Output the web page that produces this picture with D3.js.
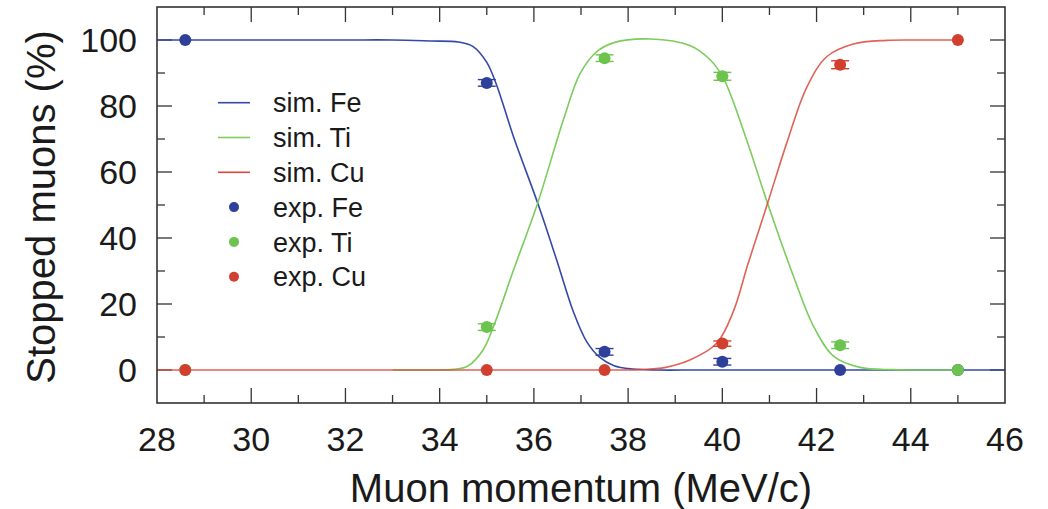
<!DOCTYPE html>
<html>
<head>
<meta charset="utf-8">
<script src="https://cdn.jsdelivr.net/npm/d3@7"></script>
<style>
  html, body { margin: 0; padding: 0; background: #fff; }
  svg { display: block; }
  text { font-family: "Liberation Sans", Arial, Helvetica, sans-serif; fill: #1a1a1a; }
</style>
</head>
<body>
<svg id="chart" width="1048" height="509"></svg>
<script>
// ---------- data ----------
const xTicks = [28, 30, 32, 34, 36, 38, 40, 42, 44, 46];
const yTicks = [0, 20, 40, 60, 80, 100];

// simulation curves [momentum, percent]
const simFe = [[28,100],[30,100],[32,100],[33,100],[33.8,99.7],[34.4,99.4],[34.71,98.0],[35.0,93.2],[35.21,86.3],[35.56,71.0],[36.09,50.2],[36.48,33.5],[36.84,17.6],[37.12,8.6],[37.4,3.8],[37.7,1.3],[38.1,0.3],[38.6,0],[39.5,0],[41,0],[43,0],[46,0]];
const simTi = [[33,0],[33.7,0],[34.3,0.2],[34.6,1.2],[34.93,6.3],[35.17,14.2],[35.56,30.0],[36.09,51.0],[36.63,76],[36.98,89.8],[37.33,96.4],[37.7,99.2],[38.47,100.3],[39.31,98.3],[39.74,94.0],[40.02,88.5],[40.5,70.4],[40.96,50.5],[41.51,28.4],[41.93,13.4],[42.36,4.2],[42.92,0.8],[43.63,0.1],[44.2,0],[45,0]];
const simCu = [[28,0],[30,0],[32,0],[34,0],[36,0],[37.5,0],[38.25,0.1],[38.8,0.8],[39.31,3.0],[39.88,8.1],[40.23,17.6],[40.55,32.4],[40.96,50.5],[41.37,68.9],[41.79,85.6],[42.22,95.0],[42.78,98.8],[43.49,99.9],[44.2,100],[45,100]];

// experimental points
const expX   = [28.6, 35, 37.5, 40, 42.5, 45];
const expFe  = [100, 87, 5.5, 2.5, 0, 0];
const expTi  = [0, 13, 94.5, 89, 7.5, 0];
const expCu  = [0, 0, 0, 8, 92.5, 100];
const errFe  = [0, 1, 1, 1, 0, 0];
const errTi  = [0, 1, 1, 1.2, 1, 0];
const errCu  = [0, 0, 0, 0.8, 1.2, 0];

const legendLabels = ["sim. Fe", "sim. Ti", "sim. Cu", "exp. Fe", "exp. Ti", "exp. Cu"];

// ---------- layout ----------
const colors = { Fe: "#3549a8", Ti: "#7ccc5e", Cu: "#d9483a" };
const dotColors = { Fe: "#2e409a", Ti: "#6cc44e", Cu: "#d13f2f" };

const svg = d3.select("#chart");
const L = 157, R = 1005, T = 7, B = 403;
const x = d3.scaleLinear().domain([28, 46]).range([L, R]);
const y = d3.scaleLinear().domain([-10, 110]).range([B, T]);

// ---------- ticks (inward, all four sides) ----------
const tickColor = "#333";
const major = 15, minor = 8;
const g = svg.append("g");
const xMinor = d3.range(29, 46, 2);
const yMinor = [10, 30, 50, 70, 90];

function vTick(xv, len) {
  g.append("line").attr("x1", x(xv)).attr("x2", x(xv)).attr("y1", B).attr("y2", B - len).attr("stroke", tickColor).attr("stroke-width", 1.3);
  g.append("line").attr("x1", x(xv)).attr("x2", x(xv)).attr("y1", T).attr("y2", T + len).attr("stroke", tickColor).attr("stroke-width", 1.3);
}
function hTick(yv, len) {
  g.append("line").attr("x1", L).attr("x2", L + len).attr("y1", y(yv)).attr("y2", y(yv)).attr("stroke", tickColor).attr("stroke-width", 1.3);
  g.append("line").attr("x1", R).attr("x2", R - len).attr("y1", y(yv)).attr("y2", y(yv)).attr("stroke", tickColor).attr("stroke-width", 1.3);
}
xTicks.slice(1, -1).forEach(v => vTick(v, major));
xMinor.forEach(v => vTick(v, minor));
yTicks.forEach(v => hTick(v, major));
yMinor.forEach(v => hTick(v, minor));

// tick labels
svg.append("g").selectAll("text").data(xTicks).join("text")
  .attr("x", d => x(d)).attr("y", 451)
  .attr("text-anchor", "middle").attr("font-size", 34)
  .text(d => d);
svg.append("g").selectAll("text").data(yTicks).join("text")
  .attr("x", 137).attr("y", d => y(d)).attr("dy", "0.36em")
  .attr("text-anchor", "end").attr("font-size", 34)
  .text(d => d);

// axis titles
svg.append("text").attr("x", (L + R) / 2).attr("y", 502)
  .attr("text-anchor", "middle").attr("font-size", 40)
  .text("Muon momentum (MeV/c)");
svg.append("text").attr("transform", "translate(55,207) rotate(-90)")
  .attr("text-anchor", "middle").attr("font-size", 40)
  .text("Stopped muons (%)");

// ---------- curves ----------
const line = d3.line().x(d => x(d[0])).y(d => y(d[1])).curve(d3.curveCatmullRom.alpha(0.5));
const curves = g.append("g").attr("fill", "none").attr("stroke-width", 1.6);
curves.append("path").datum(simFe).attr("d", line).attr("stroke", colors.Fe);
curves.append("path").datum(simTi).attr("d", line).attr("stroke", colors.Ti);
curves.append("path").datum(simCu).attr("d", line).attr("stroke", colors.Cu).attr("stroke-opacity", 0.85);

// ---------- experimental points ----------
function drawExp(vals, errs, key) {
  const gg = g.append("g");
  vals.forEach((v, i) => {
    const cx = x(expX[i]), cy = y(v), e = errs[i];
    if (e > 0) {
      const y1 = y(v + e), y2 = y(v - e);
      gg.append("line").attr("x1", cx).attr("x2", cx).attr("y1", y1).attr("y2", y2).attr("stroke", dotColors[key]).attr("stroke-width", 1.4);
      [y1, y2].forEach(yy => gg.append("line").attr("x1", cx - 9).attr("x2", cx + 9).attr("y1", yy).attr("y2", yy).attr("stroke", dotColors[key]).attr("stroke-width", 1.4));
    }
    gg.append("circle").attr("cx", cx).attr("cy", cy).attr("r", 6).attr("fill", dotColors[key]);
  });
}
drawExp(expFe, errFe, "Fe");
drawExp(expTi, errTi, "Ti");
drawExp(expCu, errCu, "Cu");

// ---------- frame ----------
svg.append("rect").attr("x", L).attr("y", T).attr("width", R - L).attr("height", B - T)
  .attr("fill", "none").attr("stroke", "#333").attr("stroke-width", 1.6);

// ---------- legend ----------
const legKeys = ["Fe", "Ti", "Cu", "Fe", "Ti", "Cu"];
const leg = svg.append("g");
legendLabels.forEach((lab, i) => {
  const yy = 102.7 + i * 34.8;
  if (i < 3) {
    leg.append("line").attr("x1", 218).attr("x2", 250).attr("y1", yy).attr("y2", yy)
      .attr("stroke", colors[legKeys[i]]).attr("stroke-width", 1.6);
  } else {
    leg.append("circle").attr("cx", 234).attr("cy", yy).attr("r", 5).attr("fill", dotColors[legKeys[i]]);
  }
  leg.append("text").attr("x", 273).attr("y", yy).attr("dy", "0.36em").attr("font-size", 27).text(lab);
});
</script>
</body>
</html>
